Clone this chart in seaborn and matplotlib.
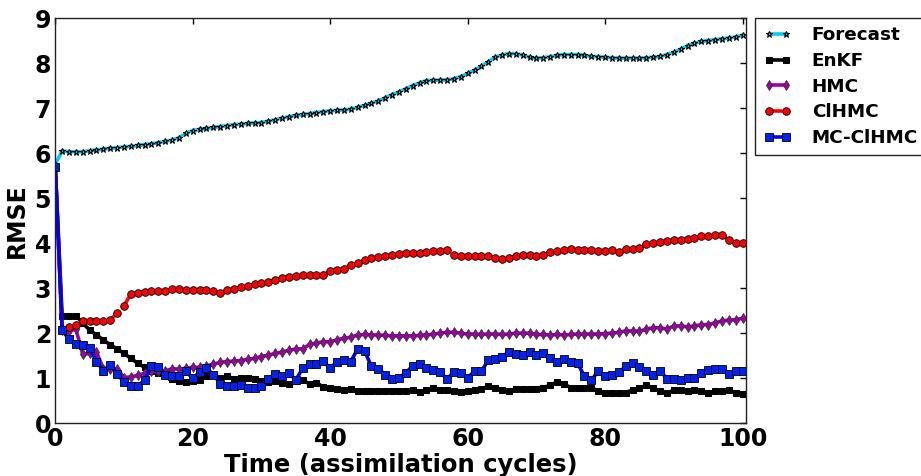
import numpy as np
import pandas as pd
import matplotlib
matplotlib.use("Agg")
import matplotlib.pyplot as plt
import seaborn as sns

forecast = [5.75, 6.05, 6.03, 6.03, 6.03, 6.05, 6.07, 6.09, 6.11, 6.12,
            6.14, 6.15, 6.17, 6.19, 6.21, 6.23, 6.26, 6.29, 6.34, 6.44,
            6.50, 6.53, 6.55, 6.57, 6.59, 6.61, 6.63, 6.65, 6.66, 6.67,
            6.68, 6.71, 6.74, 6.78, 6.81, 6.84, 6.86, 6.88, 6.90, 6.92,
            6.94, 6.95, 6.96, 6.98, 7.02, 7.06, 7.11, 7.16, 7.23, 7.30,
            7.36, 7.43, 7.50, 7.56, 7.61, 7.62, 7.62, 7.63, 7.65, 7.70,
            7.77, 7.84, 7.93, 8.03, 8.13, 8.18, 8.21, 8.21, 8.18, 8.13,
            8.11, 8.12, 8.14, 8.17, 8.19, 8.19, 8.19, 8.17, 8.15, 8.14,
            8.13, 8.12, 8.11, 8.11, 8.11, 8.11, 8.12, 8.13, 8.15, 8.19,
            8.24, 8.31, 8.39, 8.44, 8.48, 8.50, 8.52, 8.54, 8.56, 8.58,
            8.62]
enkf = [5.70, 2.39, 2.37, 2.39, 2.22, 2.07, 1.96, 1.85, 1.74, 1.65,
        1.55, 1.44, 1.33, 1.24, 1.15, 1.11, 1.08, 0.98, 0.93, 0.91,
        0.93, 0.96, 1.04, 1.06, 1.00, 1.04, 0.99, 1.00, 1.01, 0.99,
        0.93, 0.91, 0.94, 0.89, 0.87, 0.93, 0.96, 0.87, 0.90, 0.80,
        0.78, 0.76, 0.74, 0.76, 0.72, 0.71, 0.72, 0.72, 0.72, 0.72,
        0.71, 0.72, 0.73, 0.69, 0.74, 0.78, 0.73, 0.74, 0.72, 0.69,
        0.71, 0.73, 0.76, 0.82, 0.79, 0.74, 0.71, 0.76, 0.76, 0.76,
        0.76, 0.78, 0.85, 0.91, 0.87, 0.79, 0.79, 0.78, 0.78, 0.72,
        0.67, 0.67, 0.67, 0.68, 0.74, 0.78, 0.84, 0.78, 0.71, 0.67,
        0.73, 0.73, 0.72, 0.73, 0.72, 0.68, 0.71, 0.71, 0.73, 0.68,
        0.65]
hmc = [5.70, 2.07, 2.05, 2.09, 1.53, 1.55, 1.58, 1.21, 1.20, 1.21,
       1.01, 1.03, 1.06, 1.11, 1.15, 1.15, 1.16, 1.21, 1.20, 1.22,
       1.24, 1.24, 1.27, 1.31, 1.35, 1.37, 1.38, 1.39, 1.42, 1.44,
       1.48, 1.51, 1.55, 1.58, 1.62, 1.65, 1.65, 1.75, 1.78, 1.81,
       1.81, 1.85, 1.89, 1.91, 1.96, 1.97, 1.96, 1.96, 1.95, 1.94,
       1.94, 1.94, 1.94, 1.95, 1.96, 1.98, 2.00, 2.02, 2.02, 2.00,
       1.98, 1.98, 1.97, 1.98, 1.98, 1.97, 1.98, 2.00, 2.00, 2.00,
       1.97, 1.97, 1.96, 1.97, 1.96, 1.97, 1.98, 1.98, 1.98, 1.98,
       1.99, 2.00, 2.02, 2.05, 2.05, 2.04, 2.09, 2.12, 2.12, 2.09,
       2.16, 2.16, 2.14, 2.16, 2.19, 2.19, 2.23, 2.27, 2.29, 2.30,
       2.33]
clhmc = [5.70, 2.10, 2.13, 2.18, 2.26, 2.26, 2.26, 2.26, 2.29, 2.44,
         2.61, 2.87, 2.90, 2.92, 2.93, 2.93, 2.94, 2.97, 2.97, 2.96,
         2.96, 2.95, 2.95, 2.94, 2.89, 2.95, 2.98, 3.02, 3.04, 3.09,
         3.12, 3.14, 3.19, 3.23, 3.25, 3.27, 3.29, 3.29, 3.29, 3.30,
         3.38, 3.41, 3.43, 3.51, 3.56, 3.62, 3.66, 3.69, 3.72, 3.74,
         3.76, 3.77, 3.77, 3.78, 3.80, 3.82, 3.83, 3.84, 3.73, 3.71,
         3.71, 3.71, 3.71, 3.71, 3.67, 3.64, 3.66, 3.71, 3.74, 3.74,
         3.71, 3.74, 3.80, 3.82, 3.84, 3.86, 3.84, 3.84, 3.85, 3.83,
         3.83, 3.84, 3.80, 3.86, 3.86, 3.89, 3.97, 4.01, 4.02, 4.05,
         4.06, 4.07, 4.10, 4.12, 4.15, 4.16, 4.19, 4.19, 4.06, 4.01,
         4.01]
mcclhmc = [5.70, 2.07, 1.86, 1.75, 1.74, 1.67, 1.37, 1.17, 1.30, 1.10,
           0.91, 0.82, 0.82, 0.96, 1.26, 1.25, 1.08, 1.04, 1.04, 1.15,
           1.00, 1.13, 1.22, 1.08, 0.88, 0.82, 0.82, 0.85, 0.79, 0.78,
           0.82, 0.98, 1.09, 1.04, 1.11, 0.96, 1.22, 1.31, 1.31, 1.38,
           1.22, 1.37, 1.41, 1.37, 1.65, 1.61, 1.26, 1.21, 1.08, 0.99,
           1.01, 1.11, 1.28, 1.31, 1.22, 1.18, 1.13, 0.99, 1.13, 1.11,
           1.01, 1.15, 1.15, 1.40, 1.42, 1.48, 1.58, 1.54, 1.52, 1.58,
           1.52, 1.55, 1.44, 1.35, 1.43, 1.37, 1.33, 1.04, 0.95, 1.16,
           1.05, 1.08, 1.13, 1.26, 1.33, 1.24, 1.16, 1.08, 1.16, 0.99,
           0.99, 0.96, 1.01, 1.00, 1.11, 1.18, 1.20, 1.20, 1.09, 1.15,
           1.15]

series_names = ["Forecast", "EnKF", "HMC", "ClHMC", "MC-ClHMC"]
series_vals = [forecast, enkf, hmc, clhmc, mcclhmc]

sns.set_theme(style="white")
plt.rcParams["font.family"] = ["DejaVu Sans"]
plt.rcParams["font.weight"] = "bold"
plt.rcParams["axes.labelweight"] = "bold"
for k in ["text.color", "axes.labelcolor", "xtick.color", "ytick.color",
          "axes.edgecolor"]:
    plt.rcParams[k] = "black"

fig = plt.figure(figsize=(9.21, 4.76), dpi=100)
ax = fig.add_axes([0.060, 0.111, 0.750, 0.851])

styles = {
    "Forecast": dict(color="#00d0f0", marker="*", markersize=5, markerfacecolor="#00d0f0",
                     markeredgecolor="black", markeredgewidth=0.8, linestyle="-"),
    "EnKF": dict(color="black", marker="s", markersize=5, markerfacecolor="black",
                 markeredgecolor="black", linestyle="-"),
    "HMC": dict(color="#a000a8", marker="d", markersize=5.5, markerfacecolor="#a000a8",
                markeredgecolor="#333333", markeredgewidth=0.6, linestyle="-"),
    "ClHMC": dict(color="red", marker="o", markersize=5.5, markerfacecolor="red",
                  markeredgecolor="black", markeredgewidth=0.6, linestyle="--"),
    "MC-ClHMC": dict(color="#0000ee", marker="s", markersize=5.5, markerfacecolor="#0022ee",
                     markeredgecolor="black", markeredgewidth=0.6, linestyle="-"),
}

for name, vals in zip(series_names, series_vals):
    t = np.arange(len(vals))
    df = pd.DataFrame({"t": t, "rmse": vals})
    sns.lineplot(data=df, x="t", y="rmse", ax=ax, label=name, linewidth=2.6,
                 **styles[name])

ax.set_xlim(0, 100.5)
ax.set_ylim(0, 9)
ax.set_xticks([0, 20, 40, 60, 80, 100])
ax.set_yticks(range(0, 10))
ax.tick_params(axis="both", which="both", direction="in", top=True, right=True,
               labelsize=17, length=4, width=1, pad=3, colors="black")
for lab in ax.get_xticklabels() + ax.get_yticklabels():
    lab.set_fontweight("bold")
for sp in ax.spines.values():
    sp.set_color("#222222")
    sp.set_linewidth(1.0)

ax.set_xlabel("Time (assimilation cycles)", fontsize=17.5, fontweight="bold", labelpad=1)
ax.set_ylabel("RMSE", fontsize=17, fontweight="bold", labelpad=4)

leg = ax.legend(loc="upper left", bbox_to_anchor=(1.013, 1.0), numpoints=2,
                frameon=True, fancybox=False, shadow=False, framealpha=1,
                edgecolor="#222222", prop={"weight": "bold", "size": 13.2},
                handlelength=1.55, borderpad=0.45, labelspacing=0.42, handletextpad=1.1,
                borderaxespad=0)
leg.get_frame().set_linewidth(1.0)

fig.savefig("out.png", dpi=100)
